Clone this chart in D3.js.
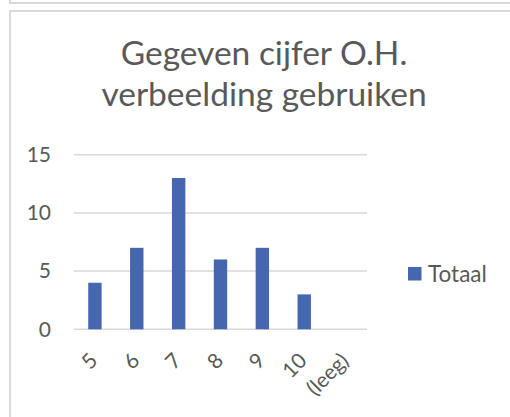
<!DOCTYPE html>
<html><head><meta charset="utf-8">
<script src="https://cdn.jsdelivr.net/npm/d3@7"></script>
<style>html,body{margin:0;padding:0;background:#fff;}svg{display:block;}</style>
</head><body>
<script>
const categories = ["5","6","7","8","9","10","(leeg)"];
const values = [4,7,13,6,7,3,null];
const yTicks = [0,5,10,15];
const seriesName = "Totaal";
const titleLines = ["Gegeven cijfer O.H.","verbeelding gebruiken"];

const W=510,H=417;
const font="Lato, 'Open Sans', sans-serif";
const txt="#595959";
const svg=d3.select("body").append("svg").attr("width",W).attr("height",H);

// frames
svg.append("path").attr("d","M10,0 V3 H510").attr("fill","none").attr("stroke","#d9d9d9").attr("stroke-width",2);
svg.append("path").attr("d","M10,417 V11 H510").attr("fill","none").attr("stroke","#d9d9d9").attr("stroke-width",2);

// title
svg.append("g").selectAll("text").data(titleLines).join("text")
  .attr("x",264).attr("y",(d,i)=>65+i*40.5).attr("text-anchor","middle")
  .attr("font-family",font).attr("font-size",33.5).attr("fill",txt).text(d=>d);

const x=d3.scaleBand().domain(categories).range([74,367]).paddingInner(0).paddingOuter(0);
const y=d3.scaleLinear().domain([0,15]).range([329.3,154.7]);

// gridlines
svg.append("g").selectAll("line").data(yTicks).join("line")
  .attr("x1",74).attr("x2",367).attr("y1",d=>y(d)).attr("y2",d=>y(d))
  .attr("stroke","#d9d9d9").attr("stroke-width",1.5);

// y axis labels
const yAxis=d3.axisLeft(y).tickValues(yTicks).tickSize(0).tickPadding(0);
const gy=svg.append("g").attr("transform","translate(51,0)").call(yAxis);
gy.select(".domain").remove();
gy.selectAll("text").attr("font-family",font).attr("font-size",21).attr("fill",txt);

// bars
const bw=13.4;
svg.append("g").selectAll("rect").data(categories.map((c,i)=>({c,v:values[i]})).filter(d=>d.v!=null)).join("rect")
  .attr("x",d=>x(d.c)+x.bandwidth()/2-bw/2).attr("width",bw)
  .attr("y",d=>y(d.v)).attr("height",d=>y(0)-y(d.v)).attr("fill","#4567B0");

// x axis labels
const xAxis=d3.axisBottom(x).tickSize(0).tickPadding(0);
const gx=svg.append("g").attr("transform","translate(0,0)").call(xAxis);
gx.select(".domain").remove();
gx.selectAll(".tick").attr("transform",d=>`translate(${x(d)+x.bandwidth()/2+4},362)`);
gx.selectAll("text").attr("font-family",font).attr("font-size",21).attr("fill",txt)
  .attr("text-anchor","end").attr("dy",0).attr("y",0).attr("x",0)
  .attr("transform","rotate(-45)");

// legend
const lg=svg.append("g");
lg.append("rect").attr("x",408).attr("y",267).attr("width",13.5).attr("height",13.5).attr("fill","#4567B0");
lg.append("text").attr("x",428).attr("y",281.5).attr("font-family",font).attr("font-size",22.5).attr("fill",txt).text(seriesName);
</script>
</body></html>
